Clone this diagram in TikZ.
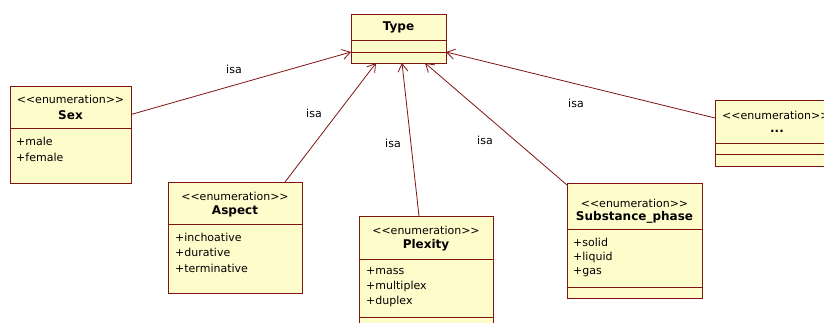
\documentclass[tikz,border=0pt]{standalone}
\usepackage{fontspec}
\setmainfont{DejaVu Sans}[Ligatures=NoCommon]
\usetikzlibrary{arrows.meta}
\definecolor{classfill}{RGB}{255,252,204}
\definecolor{classline}{RGB}{128,20,20}
\newcommand{\enumstereo}{{<}{<}enumeration{>}{>}}
\begin{document}
\begin{tikzpicture}[x=1pt,y=-1pt,
  classbox/.style={draw=classline, fill=classfill, line width=0.9pt, anchor=north west, inner sep=0pt, outer sep=0pt},
  sepline/.style={draw=classline, line width=0.9pt},
  stereo/.style={font=\fontsize{11}{13}\selectfont, inner sep=0pt},
  title/.style={font=\fontsize{12}{14}\selectfont\bfseries, inner sep=0pt},
  attr/.style={font=\fontsize{11}{13}\selectfont, inner sep=0pt, anchor=west},
  isa/.style={draw=classline, line width=0.8pt, -{Straight Barb[length=8pt,width=10pt]}},
  lbl/.style={font=\fontsize{11}{13}\selectfont, inner sep=0pt}]
\useasboundingbox[fill=white] (0,0) rectangle (824,323);

% Type
\node[classbox, minimum width=95pt, minimum height=49pt] (type) at (351,14) {};
\draw[sepline] (351,40) -- (446,40);
\draw[sepline] (351,52) -- (446,52);
\node[title] (typeT) at (398.5,27) {Type};

% Sex
\node[classbox, minimum width=121pt, minimum height=97pt] (sex) at (10,86) {};
\draw[sepline] (10,128) -- (131,128);
\node[stereo] (sexS) at (70.5,99) {\enumstereo};
\node[title] (sexT) at (70.5,115) {Sex};
\node[attr] (sexA1) at (16,141) {+male};
\node[attr] (sexA2) at (16,157) {+female};

% Aspect
\node[classbox, minimum width=134pt, minimum height=111pt] (aspect) at (168,182) {};
\draw[sepline] (168,224) -- (302,224);
\node[stereo] (aspS) at (235,196) {\enumstereo};
\node[title] (aspT) at (235,211) {Aspect};
\node[attr] (aspA1) at (175,237) {+inchoative};
\node[attr] (aspA2) at (175,252) {+durative};
\node[attr] (aspA3) at (175,268) {+terminative};

% Plexity
\node[classbox, minimum width=134pt, minimum height=120pt] (plex) at (359,216) {};
\draw[sepline] (359,259) -- (493,259);
\draw[sepline] (359,317) -- (493,317);
\node[stereo] (plxS) at (426,230) {\enumstereo};
\node[title] (plxT) at (426,245) {Plexity};
\node[attr] (plxA1) at (366,271) {+mass};
\node[attr] (plxA2) at (366,286) {+multiplex};
\node[attr] (plxA3) at (366,301) {+duplex};

% Substance_phase
\node[classbox, minimum width=135pt, minimum height=115pt] (subst) at (567,183) {};
\draw[sepline] (567,229) -- (702,229);
\draw[sepline] (567,287) -- (702,287);
\node[stereo] (subS) at (634.5,203) {\enumstereo};
\node[title] (subT) at (634.5,217) {Substance\_phase};
\node[attr] (subA1) at (573,242) {+solid};
\node[attr] (subA2) at (573,257) {+liquid};
\node[attr] (subA3) at (573,272) {+gas};

% further enumerations
\node[classbox, minimum width=122pt, minimum height=66pt] (more) at (715,100) {};
\draw[sepline] (715,143) -- (837,143);
\draw[sepline] (715,154) -- (837,154);
\node[stereo, anchor=west] (morS) at (722,115) {\enumstereo};
\node[title] (morT) at (777,131) {...};

% generalisation links
\draw[isa] ([yshift=20pt]sex.east) -- ([yshift=-13.5pt]type.west);
\draw[isa] ([xshift=50pt]aspect.north) -- ([xshift=-22.5pt]type.south);
\draw[isa] ([xshift=-7pt]plex.north) -- ([xshift=3.5pt]type.south);
\draw[isa] ([yshift=-2pt]subst.north west) -- ([xshift=26.5pt]type.south);
\draw[isa] ([yshift=15pt]more.west) -- ([yshift=-13.5pt]type.east);

\node[lbl] (l1) at (234,69) {isa};
\node[lbl] (l2) at (314,113) {isa};
\node[lbl] (l3) at (393,143) {isa};
\node[lbl] (l4) at (485,140) {isa};
\node[lbl] (l5) at (576,103) {isa};
\end{tikzpicture}
\end{document}
